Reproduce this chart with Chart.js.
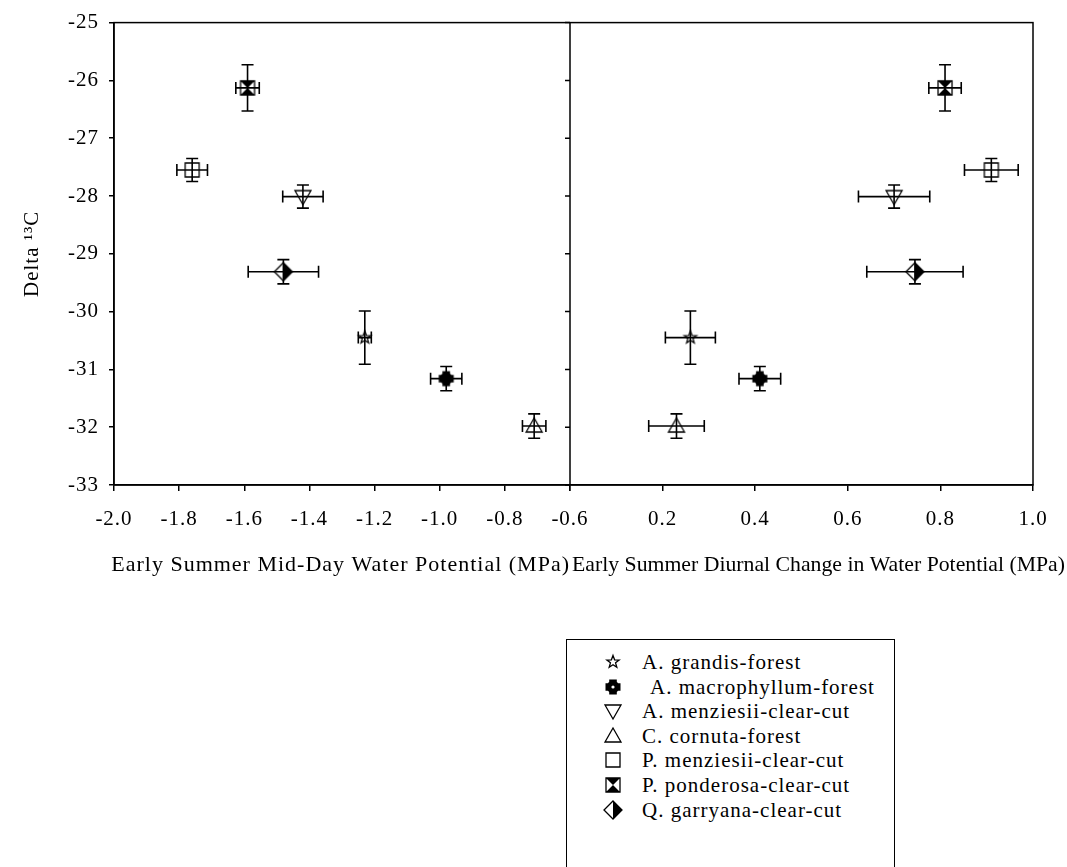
<!DOCTYPE html>
<html>
<head>
<meta charset="utf-8">
<script src="https://cdn.jsdelivr.net/npm/chart.js@4.4.1/dist/chart.umd.min.js"></script>
<style>
  body { margin: 0; background: #fff; width: 1067px; height: 867px; overflow: hidden; position: relative; font-family: "Liberation Serif", "Times New Roman", serif; }
  #wrap { position: absolute; left: 0; top: 0; width: 1067px; height: 600px; }
  #legend { position: absolute; left: 566px; top: 639px; width: 329px; height: 260px; border: 1.5px solid #000; box-sizing: border-box; }
  .row { position: absolute; left: 0; width: 320px; height: 24px; line-height: 24px; font-size: 21px; letter-spacing: 1px; white-space: pre; color: #000; }
  .row canvas { position: absolute; left: 35px; top: 1px; }
  .row span { position: absolute; left: 75px; }
</style>
</head>
<body>
<div id="wrap"><canvas id="chart" width="1067" height="600"></canvas></div>
<div id="legend"></div>
<script>
// species and their marker
const species = ['A. grandis-forest', 'A. macrophyllum-forest', 'A. menziesii-clear-cut', 'C. cornuta-forest',
                 'P. menziesii-clear-cut', 'P. ponderosa-clear-cut', 'Q. garryana-clear-cut'];
const markers = ['star', 'cross', 'triDown', 'triUp', 'square', 'bowtie', 'halfDiamond'];

// Delta 13C (same for both panels) and its error
const delta13C = [-30.45, -31.16, -28.01, -31.98, -27.55, -26.13, -29.31];
const delta13CErr = [0.46, 0.21, 0.2, 0.21, 0.2, 0.4, 0.21];

// early summer mid-day water potential (MPa)
const middayWP = [-1.23, -0.98, -1.42, -0.71, -1.76, -1.59, -1.48];
const middayWPErr = [0.02, 0.048, 0.062, 0.036, 0.047, 0.036, 0.108];

// early summer diurnal change in water potential (MPa)
const diurnalWP = [0.26, 0.41, 0.70, 0.23, 0.91, 0.81, 0.745];
const diurnalWPErr = [0.054, 0.045, 0.077, 0.06, 0.058, 0.035, 0.104];

const xTitles = ['Early Summer Mid-Day Water Potential (MPa)', 'Early Summer Diurnal Change in Water Potential (MPa)'];

const serif = '"Liberation Serif", "Times New Roman", serif';

function drawMarker(ctx, kind, cx, cy, inLegend) {
  ctx.save();
  ctx.strokeStyle = '#000';
  ctx.fillStyle = '#000';
  ctx.lineWidth = 1.3;
  ctx.beginPath();
  if (kind === 'star') {
    for (let k = 0; k < 10; k++) {
      const r = k % 2 ? 2.7 : 6.5;
      const a = -Math.PI / 2 + k * Math.PI / 5;
      const px = cx + r * Math.cos(a), py = cy + r * Math.sin(a);
      if (k) ctx.lineTo(px, py); else ctx.moveTo(px, py);
    }
    ctx.closePath();
    ctx.stroke();
  } else if (kind === 'cross') {
    const a = 7.5, b = 3.8;
    ctx.moveTo(cx - b, cy - a); ctx.lineTo(cx + b, cy - a); ctx.lineTo(cx + b, cy - b);
    ctx.lineTo(cx + a, cy - b); ctx.lineTo(cx + a, cy + b); ctx.lineTo(cx + b, cy + b);
    ctx.lineTo(cx + b, cy + a); ctx.lineTo(cx - b, cy + a); ctx.lineTo(cx - b, cy + b);
    ctx.lineTo(cx - a, cy + b); ctx.lineTo(cx - a, cy - b); ctx.lineTo(cx - b, cy - b);
    ctx.closePath();
    ctx.fill();
    ctx.beginPath();
    ctx.arc(cx, cy, 6.2, 0, Math.PI * 2);
    ctx.fill();
    if (inLegend) {
      ctx.fillStyle = '#fff';
      ctx.beginPath();
      ctx.arc(cx, cy, 1.6, 0, Math.PI * 2);
      ctx.fill();
    }
  } else if (kind === 'triDown') {
    ctx.moveTo(cx - 8, cy - 6); ctx.lineTo(cx + 8, cy - 6); ctx.lineTo(cx, cy + 8);
    ctx.closePath();
    ctx.stroke();
  } else if (kind === 'triUp') {
    ctx.moveTo(cx - 8, cy + 6); ctx.lineTo(cx + 8, cy + 6); ctx.lineTo(cx, cy - 8);
    ctx.closePath();
    ctx.stroke();
  } else if (kind === 'square') {
    ctx.rect(cx - 7, cy - 7, 14, 14);
    ctx.stroke();
  } else if (kind === 'bowtie') {
    ctx.rect(cx - 7, cy - 7, 14, 14);
    ctx.stroke();
    ctx.beginPath();
    ctx.moveTo(cx - 7, cy - 7); ctx.lineTo(cx + 7, cy - 7); ctx.lineTo(cx, cy);
    ctx.closePath();
    ctx.moveTo(cx - 7, cy + 7); ctx.lineTo(cx + 7, cy + 7); ctx.lineTo(cx, cy);
    ctx.closePath();
    ctx.fill();
  } else if (kind === 'halfDiamond') {
    ctx.moveTo(cx, cy - 9); ctx.lineTo(cx + 9, cy); ctx.lineTo(cx, cy + 9); ctx.lineTo(cx - 9, cy);
    ctx.closePath();
    ctx.stroke();
    ctx.beginPath();
    ctx.moveTo(cx, cy - 9); ctx.lineTo(cx + 9, cy); ctx.lineTo(cx, cy + 9);
    ctx.closePath();
    ctx.fill();
  }
  ctx.restore();
}

function markerCanvas(kind, inLegend) {
  const c = document.createElement('canvas');
  c.width = 22;
  c.height = 22;
  drawMarker(c.getContext('2d'), kind, 11, 11, inLegend);
  return c;
}

const pointImages = markers.map(m => markerCanvas(m, false));

// error bars, drawn under the markers
const errorBars = {
  id: 'errorBars',
  beforeDatasetsDraw(chart) {
    const ctx = chart.ctx;
    const yScale = chart.scales.y;
    const cap = 6;
    ctx.save();
    ctx.strokeStyle = '#000';
    ctx.lineWidth = 1.6;
    chart.data.datasets.forEach(ds => {
      const xScale = chart.scales[ds.xAxisID];
      ds.data.forEach((p, i) => {
        const x = xScale.getPixelForValue(p.x);
        const y = yScale.getPixelForValue(p.y);
        const yt = yScale.getPixelForValue(p.y + ds.yErr[i]);
        const yb = yScale.getPixelForValue(p.y - ds.yErr[i]);
        const xl = xScale.getPixelForValue(p.x - ds.xErr[i]);
        const xr = xScale.getPixelForValue(p.x + ds.xErr[i]);
        ctx.beginPath();
        ctx.moveTo(x, yt); ctx.lineTo(x, yb);
        ctx.moveTo(x - cap, yt); ctx.lineTo(x + cap, yt);
        ctx.moveTo(x - cap, yb); ctx.lineTo(x + cap, yb);
        ctx.moveTo(xl, y); ctx.lineTo(xr, y);
        ctx.moveTo(xl, y - cap); ctx.lineTo(xl, y + cap);
        ctx.moveTo(xr, y - cap); ctx.lineTo(xr, y + cap);
        ctx.stroke();
      });
    });
    ctx.restore();
  }
};

// box round both panels, divider with its own y ticks, and the two x titles
const frame = {
  id: 'frame',
  beforeDraw(chart) {
    chart.ctx.letterSpacing = '1px';
  },
  afterDraw(chart) {
    const {ctx, chartArea} = chart;
    const yScale = chart.scales.y;
    const xl = chart.scales.xl, xr = chart.scales.xr;
    const divX = xr.left;
    ctx.save();
    ctx.strokeStyle = '#000';
    ctx.lineWidth = 1.5;
    ctx.strokeRect(chartArea.left, chartArea.top, chartArea.right - chartArea.left, chartArea.bottom - chartArea.top);
    ctx.beginPath();
    ctx.moveTo(divX, chartArea.top);
    ctx.lineTo(divX, chartArea.bottom);
    yScale.ticks.forEach(t => {
      const y = yScale.getPixelForValue(t.value);
      ctx.moveTo(divX - 5, y);
      ctx.lineTo(divX, y);
    });
    ctx.stroke();

    // the titles sit side by side, meeting at the divider
    ctx.fillStyle = '#000';
    ctx.font = '22px ' + serif;
    ctx.textBaseline = 'middle';
    const ty = xl.bottom - 35;
    ctx.textAlign = 'right';
    ctx.fillText(xTitles[0], xl.right, ty);
    ctx.letterSpacing = '0px';
    ctx.textAlign = 'left';
    ctx.fillText(xTitles[1], xr.left + 2, ty, chart.width - xr.left - 4);
    ctx.restore();
  }
};

const tickFont = { family: serif, size: 21 };

function xAxis(min, max, weight, hideZero) {
  return {
    type: 'linear',
    position: 'bottom',
    stack: 'x',
    stackWeight: weight,
    min: min,
    max: max,
    ticks: {
      stepSize: 0.2,
      autoSkip: false,
      maxRotation: 0,
      padding: 16,
      color: '#000',
      font: tickFont,
      callback: v => (hideZero && Math.abs(v) < 1e-9) ? '' : v.toFixed(1)
    },
    grid: { drawOnChartArea: false, drawTicks: true, tickLength: 6, color: '#000', lineWidth: 1.5 },
    border: { color: '#000', width: 1.5 },
    title: { display: false },
    afterFit: s => { s.height = 115; }
  };
}

new Chart(document.getElementById('chart').getContext('2d'), {
  type: 'scatter',
  data: {
    datasets: [
      {
        label: 'Mid-day water potential',
        xAxisID: 'xl',
        data: middayWP.map((x, i) => ({ x: x, y: delta13C[i] })),
        xErr: middayWPErr,
        yErr: delta13CErr,
        pointStyle: pointImages,
        pointRadius: 8
      },
      {
        label: 'Diurnal change in water potential',
        xAxisID: 'xr',
        data: diurnalWP.map((x, i) => ({ x: x, y: delta13C[i] })),
        xErr: diurnalWPErr,
        yErr: delta13CErr,
        pointStyle: pointImages,
        pointRadius: 8
      }
    ]
  },
  options: {
    responsive: false,
    animation: false,
    layout: { padding: { top: 19, right: 34, bottom: 0, left: 0 } },
    plugins: {
      legend: { display: false },
      tooltip: { enabled: false }
    },
    scales: {
      xl: xAxis(-2.0, -0.6, 456, false),
      xr: xAxis(0, 1.0, 463, true),
      y: {
        type: 'linear',
        min: -33,
        max: -25,
        ticks: { stepSize: 1, padding: 10, color: '#000', font: tickFont },
        grid: { drawOnChartArea: false, drawTicks: true, tickLength: 5, color: '#000', lineWidth: 1.5 },
        border: { color: '#000', width: 1.5 },
        title: { display: true, text: 'Delta ¹³C', color: '#000', font: { family: serif, size: 21 }, padding: { top: 20, bottom: 0 } },
        afterFit: s => { s.width = 114; }
      }
    }
  },
  plugins: [errorBars, frame]
});

// legend box
const legend = document.getElementById('legend');
species.forEach((name, i) => {
  const row = document.createElement('div');
  row.className = 'row';
  row.style.top = (10 + i * 24.6) + 'px';
  const c = markerCanvas(markers[i], true);
  const label = document.createElement('span');
  label.textContent = name;
  if (i === 1) label.style.left = '83px';
  row.appendChild(c);
  row.appendChild(label);
  legend.appendChild(row);
});
</script>
</body>
</html>
